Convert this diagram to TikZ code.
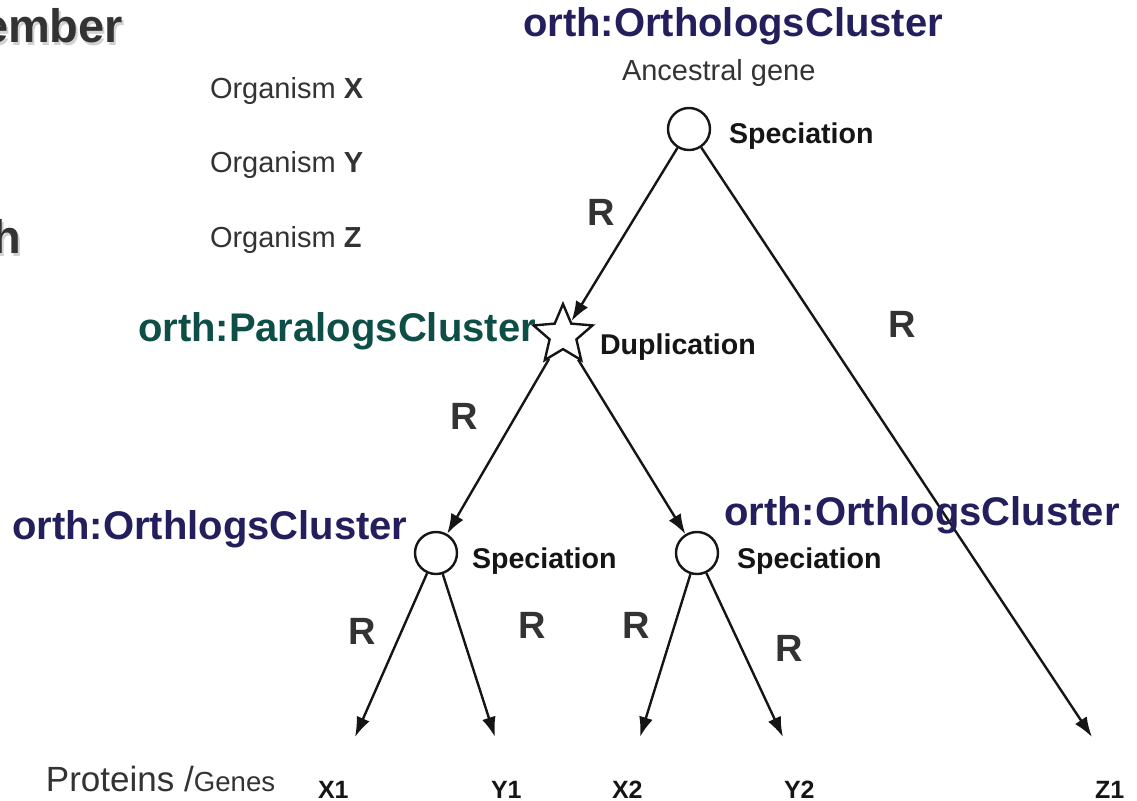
\documentclass[tikz,border=0pt]{standalone}
\usepackage{fontspec}
\setmainfont{Liberation Sans}
\usetikzlibrary{arrows.meta,shapes.geometric}
\definecolor{navy}{HTML}{231F5C}
\definecolor{teal}{HTML}{0D4F47}
\definecolor{dgray}{HTML}{333333}
\definecolor{ink}{HTML}{151515}
\begin{document}
\begin{tikzpicture}[x=0.5pt,y=-0.5pt,
  txt/.style={anchor=base west,inner sep=0pt,outer sep=0pt},
  title/.style={txt,font=\fontsize{20}{24}\selectfont\bfseries},
  rlab/.style={txt,font=\fontsize{19}{23}\selectfont\bfseries,text=dgray},
  event/.style={txt,font=\fontsize{14.3}{17}\selectfont\bfseries,text=ink},
  plain/.style={txt,font=\fontsize{14.5}{17}\selectfont,text=dgray},
  leaf/.style={txt,font=\fontsize{12.5}{15}\selectfont\bfseries,text=ink},
  spec/.style={circle,draw=ink,line width=1.2pt,fill=white,minimum size=21pt,inner sep=0pt},
  dup/.style={star,star points=5,star point ratio=2.2,draw=ink,line width=1.2pt,fill=white,minimum size=31pt,inner sep=0pt},
  edge/.style={draw=ink,line width=1.2pt,-{Latex[length=10pt,width=7pt]}},
  slide/.style={txt,font=\fontsize{23.5}{28}\selectfont\bfseries}
]
\useasboundingbox (0,0) rectangle (1137,800);
% cropped slide text
\node[slide,text=black!18] (emberS) at (-16,45) {ember};
\node[slide,text=dgray] (ember) at (-18,42) {ember};
\node[slide,text=black!18] (hS) at (-5,256) {h};
\node[slide,text=dgray] (h) at (-7,253) {h};
% organisms
\node[plain] (orgX) at (210,98) {Organism \textbf{X}};
\node[plain] (orgY) at (210,172) {Organism \textbf{Y}};
\node[plain] (orgZ) at (210,247) {Organism \textbf{Z}};
% tree nodes
\node[spec] (top) at (689,129) {};
\node[dup] (dupl) at (563,335) {};
\node[spec] (lc) at (436,553) {};
\node[spec] (rc) at (697,553) {};
\coordinate (tX1) at (355,737);
\coordinate (tY1) at (495,737);
\coordinate (tX2) at (640,737);
\coordinate (tY2) at (783,737);
\coordinate (tZ1) at (1092,737);
% connectors
\draw[edge] (top) -- (dupl);
\draw[edge] (top) -- (tZ1);
\draw[edge] (dupl) -- (lc);
\draw[edge] (dupl) -- (rc);
\draw[edge] (lc) -- (tX1);
\draw[edge] (lc) -- (tY1);
\draw[edge] (rc) -- (tX2);
\draw[edge] (rc) -- (tY2);
% event labels
\node[plain] (anc) at (622,80) {Ancestral gene};
\node[event] (sp1) at (729,143) {Speciation};
\node[event] (dlab) at (600,354) {Duplication};
\node[event] (sp2) at (472,568) {Speciation};
\node[event] (sp3) at (737,568) {Speciation};
% class labels
\node[title,text=navy] (oc1) at (523,36) {orth:OrthologsCluster};
\node[title,text=teal] (pc) at (138,341) {orth:ParalogsCluster};
\node[title,text=navy] (oc2) at (12,539) {orth:OrthlogsCluster};
\node[title,text=navy] (oc3) at (724,525) {orth:OrthlogsCluster};
% R labels
\node[rlab] (r1) at (587,225) {R};
\node[rlab] (r2) at (888,337) {R};
\node[rlab] (r3) at (450,429) {R};
\node[rlab] (r4) at (348,644) {R};
\node[rlab] (r5) at (518,638) {R};
\node[rlab] (r6) at (622,638) {R};
\node[rlab] (r7) at (775,661) {R};
% leaves
\node[txt,text=dgray] (prot) at (46,791) {\fontsize{17.5}{20}\selectfont Proteins /\fontsize{13.8}{16}\selectfont Genes};
\node[leaf] (X1) at (318,798) {X1};
\node[leaf] (Y1) at (491,798) {Y1};
\node[leaf] (X2) at (612,798) {X2};
\node[leaf] (Y2) at (784,798) {Y2};
\node[leaf] (Z1) at (1095,798) {Z1};
\end{tikzpicture}
\end{document}
